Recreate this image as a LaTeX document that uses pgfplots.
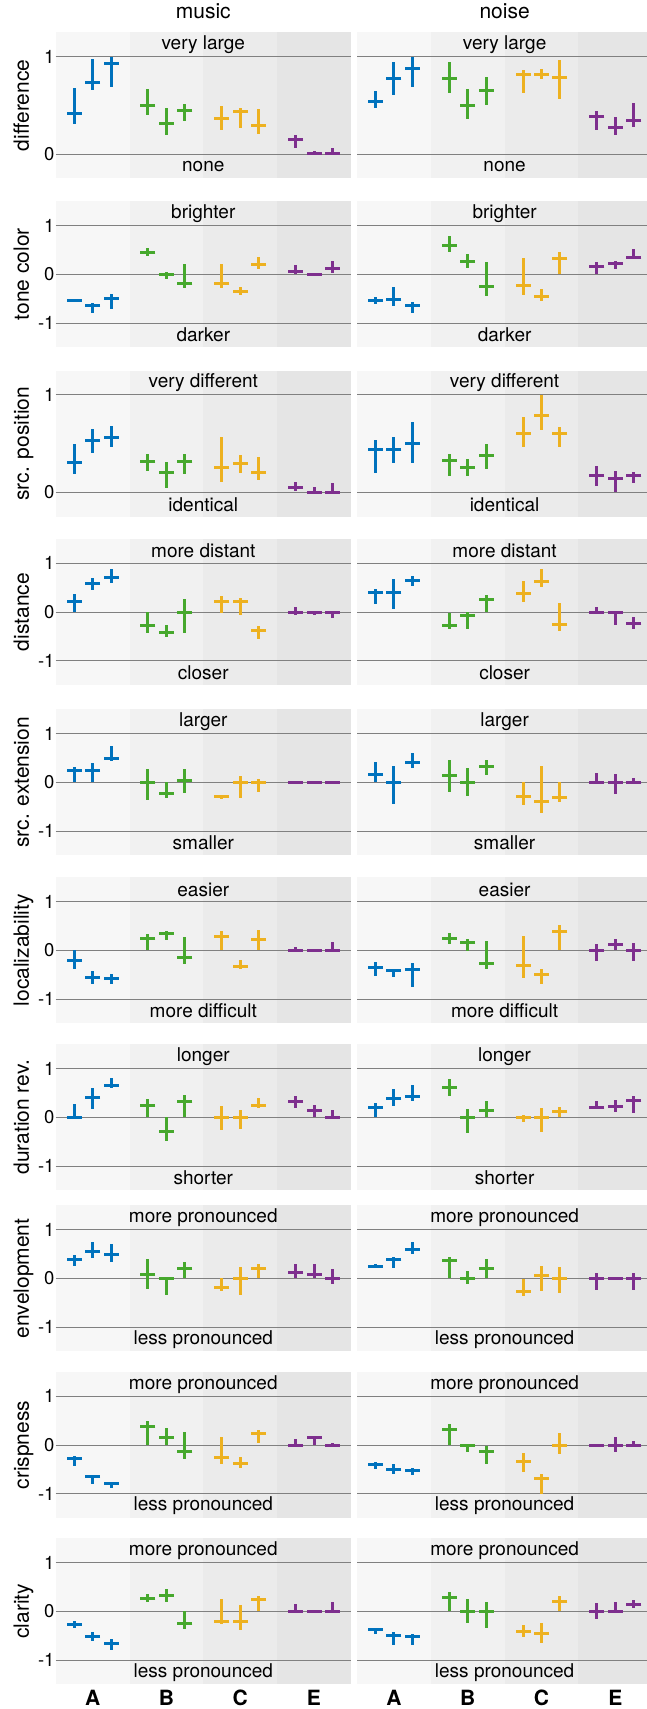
\documentclass[border=0pt]{standalone}
\usepackage{pgfplots}
\pgfplotsset{compat=1.18}
\usepackage{pgfplotstable}
\usepackage{fontspec}
\setmainfont{TeX Gyre Heros}
\definecolor{cA}{RGB}{0,114,189}
\definecolor{cB}{RGB}{70,168,45}
\definecolor{cC}{RGB}{237,177,32}
\definecolor{cE}{RGB}{126,47,142}
\definecolor{bA}{RGB}{247,247,247}
\definecolor{bB}{RGB}{241,241,241}
\definecolor{bC}{RGB}{235,235,235}
\definecolor{bE}{RGB}{229,229,229}
\definecolor{gridc}{RGB}{128,128,128}
\newcommand\fsTick{\fontsize{18.5}{21}\selectfont}
\newcommand\fsIn{\fontsize{19}{22}\selectfont}
\newcommand\fsLab{\fontsize{21}{24}\selectfont}
\newcommand\fsCat{\fontsize{21}{24}\selectfont\bfseries}
\pgfplotsset{
 panel/.style={scale only axis, width=295.2pt, height=146pt, xmin=0.5, xmax=4.5,
  anchor=north west, set layers, clip mode=individual,
  axis line style={draw=none}, major tick length=0pt, tick style={draw=none},
  xtick={1,2,3,4}, xticklabels={}, ymajorgrids, grid style={line width=0.9pt, draw=gridc},
  yticklabel style={font=\fsTick, inner xsep=1pt},
  ylabel style={font=\fsLab, at={(axis description cs:-0.0908,0.5)}, anchor=base},
  title style={font=\fsLab, at={(axis description cs:0.5,1)}, anchor=base, yshift=8pt}},
 rA/.style={ymin=-0.25, ymax=1.25, ytick={0,1}, yticklabels={0,1}},
 rB/.style={ymin=-1.5, ymax=1.5, ytick={-1,0,1}, yticklabels={-1,0,1}},
 noyl/.style={yticklabels={}},
 cats/.style={xticklabels={A,B,C,E}, xticklabel style={font=\fsCat, anchor=base, yshift=-21.5pt, inner sep=0pt}},
 ebar/.style={only marks, mark=-, mark size=7.5pt, mark options={line width=3pt, solid},
  error bars/.cd, y dir=both, y explicit, error mark=none, error bar style={line width=3pt, solid}},
}
\newcommand\bands[2]{%
 \addplot[on layer=axis background, fill=bA, draw=none] coordinates {(0.5,#1) (1.5,#1) (1.5,#2) (0.5,#2)} -- cycle;
 \addplot[on layer=axis background, fill=bB, draw=none] coordinates {(1.5,#1) (2.5,#1) (2.5,#2) (1.5,#2)} -- cycle;
 \addplot[on layer=axis background, fill=bC, draw=none] coordinates {(2.5,#1) (3.5,#1) (3.5,#2) (2.5,#2)} -- cycle;
 \addplot[on layer=axis background, fill=bE, draw=none] coordinates {(3.5,#1) (4.5,#1) (4.5,#2) (3.5,#2)} -- cycle;
}
\newcommand\grp[3]{%
 \addplot[color=#1, restrict x to domain=#2, ebar] table[x=x, y=y, y error plus expr=\thisrow{hi}-\thisrow{y}, y error minus expr=\thisrow{y}-\thisrow{lo}] {#3};}
\newcommand\groups[1]{%
 \grp{cA}{0.5:1.5}{#1}\grp{cB}{1.5:2.5}{#1}\grp{cC}{2.5:3.5}{#1}\grp{cE}{3.5:4.5}{#1}}
\newcommand\panel[8]{%
\begin{axis}[panel, at={(#1pt,-#2pt)}, #3]
\bands{#4}{#5}
\groups{#6}
\node[font=\fsIn] at (rel axis cs:0.5,0.9167) {#7};
\node[font=\fsIn] at (rel axis cs:0.5,0.0833) {#8};
\end{axis}}

% ---------- data: x mean lo hi ----------
\pgfplotstableread{
x y lo hi
0.75 0.411 0.308 0.675
1.00 0.736 0.658 0.973
1.25 0.932 0.692 1.0
1.75 0.503 0.401 0.668
2.00 0.308 0.195 0.476
2.25 0.442 0.342 0.510
2.75 0.366 0.247 0.493
3.00 0.432 0.271 0.469
3.25 0.295 0.209 0.462
3.75 0.144 0.065 0.195
4.00 0.0 0.0 0.03
4.25 0.0 0.0 0.058
}\tMa
\pgfplotstableread{
x y lo hi
0.75 0.534 0.476 0.647
1.00 0.771 0.610 0.945
1.25 0.880 0.692 1.0
1.75 0.771 0.630 0.945
2.00 0.5 0.363 0.668
2.25 0.647 0.507 0.788
2.75 0.812 0.630 0.860
3.00 0.812 0.774 0.870
3.25 0.788 0.568 0.962
3.75 0.380 0.25 0.442
4.00 0.267 0.199 0.380
4.25 0.342 0.281 0.524
}\tNa
\pgfplotstableread{
x y lo hi
0.75 -0.53 -0.54 -0.52
1.00 -0.65 -0.79 -0.58
1.25 -0.50 -0.72 -0.41
1.75 0.454 0.378 0.536
2.00 0.0 -0.103 0.048
2.25 -0.19 -0.275 0.22
2.75 -0.186 -0.275 0.22
3.00 -0.35 -0.433 -0.254
3.25 0.206 0.11 0.35
3.75 0.048 0.0 0.19
4.00 0 0 0
4.25 0.124 0.02 0.275
}\tMb
\pgfplotstableread{
x y lo hi
0.75 -0.53 -0.62 -0.46
1.00 -0.51 -0.645 -0.26
1.25 -0.64 -0.79 -0.57
1.75 0.584 0.46 0.777
2.00 0.26 0.13 0.42
2.25 -0.26 -0.447 0.254
2.75 -0.24 -0.426 0.344
3.00 -0.447 -0.55 -0.30
3.25 0.33 0.0 0.46
3.75 0.165 0.0 0.254
4.00 0.213 0.10 0.268
4.25 0.35 0.35 0.515
}\tNb
\pgfplotstableread{
x y lo hi
0.75 0.31 0.187 0.5
1.00 0.531 0.405 0.653
1.25 0.565 0.466 0.684
1.75 0.313 0.218 0.398
2.00 0.204 0.048 0.306
2.25 0.316 0.19 0.391
2.75 0.259 0.105 0.565
3.00 0.299 0.197 0.388
3.25 0.207 0.129 0.361
3.75 0.054 0.014 0.105
4.00 0 0 0.058
4.25 0 0 0.092
}\tMc
\pgfplotstableread{
x y lo hi
0.75 0.439 0.194 0.541
1.00 0.439 0.3 0.565
1.25 0.5 0.3 0.718
1.75 0.323 0.167 0.398
2.00 0.259 0.167 0.337
2.25 0.381 0.235 0.5
2.75 0.602 0.463 0.769
3.00 0.789 0.636 1.0
3.25 0.602 0.463 0.667
3.75 0.177 0.065 0.269
4.00 0.146 0.0 0.218
4.25 0.177 0.099 0.211
}\tNc
\pgfplotstableread{
x y lo hi
0.75 0.206 0 0.37
1.00 0.59 0.454 0.70
1.25 0.715 0.59 0.887
1.75 -0.268 -0.426 -0.01
2.00 -0.412 -0.509 -0.268
2.25 0 -0.426 0.275
2.75 0.22 -0.02 0.33
3.00 0.22 -0.069 0.296
3.25 -0.378 -0.557 -0.282
3.75 0 -0.069 0.11
4.00 0 -0.069 0
4.25 0 -0.13 0
}\tMd
\pgfplotstableread{
x y lo hi
0.75 0.405 0.165 0.481
1.00 0.4 0.062 0.673
1.25 0.653 0.529 0.749
1.75 -0.275 -0.35 -0.014
2.00 -0.069 -0.344 -0.007
2.25 0.247 0 0.35
2.75 0.385 0.213 0.64
3.00 0.619 0.509 0.887
3.25 -0.247 -0.4 0.179
3.75 0 0 0.11
4.00 0 -0.275 0
4.25 -0.227 -0.357 -0.11
}\tNd
\pgfplotstableread{
x y lo hi
0.75 0.234 0 0.31
1.00 0.248 0 0.407
1.25 0.483 0.428 0.745
1.75 0 -0.366 0.276
2.00 -0.228 -0.317 0
2.25 0.041 -0.214 0.276
2.75 -0.283 -0.338 -0.255
3.00 0 -0.317 0.131
3.25 0 -0.193 0.069
3.75 0 0 0
4.00 0 0 0
4.25 0 0 0
}\tMe
\pgfplotstableread{
x y lo hi
0.75 0.152 0 0.414
1.00 0 -0.441 0.338
1.25 0.414 0.303 0.607
1.75 0.131 -0.2 0.462
2.00 0 -0.276 0.297
2.25 0.317 0.152 0.462
2.75 -0.283 -0.462 0
3.00 -0.393 -0.628 0.338
3.25 -0.303 -0.4 0
3.75 0 0 0.193
4.00 0 -0.234 0.166
4.25 0 0 0.09
}\tNe
\pgfplotstableread{
x y lo hi
0.75 -0.219 -0.377 0
1.00 -0.555 -0.692 -0.418
1.25 -0.575 -0.699 -0.486
1.75 0.247 0 0.342
2.00 0.342 0.219 0.39
2.25 -0.144 -0.274 0.267
2.75 0.274 0 0.397
3.00 -0.329 -0.377 -0.192
3.25 0.212 0 0.418
3.75 0 0 0.062
4.00 0 0 0
4.25 0 0 0.164
}\tMf
\pgfplotstableread{
x y lo hi
0.75 -0.363 -0.52 -0.24
1.00 -0.425 -0.548 -0.377
1.25 -0.397 -0.753 -0.253
1.75 0.233 0.13 0.363
2.00 0.151 -0.007 0.24
2.25 -0.281 -0.377 0.185
2.75 -0.322 -0.568 0.301
3.00 -0.5 -0.692 -0.377
3.25 0.377 0 0.52
3.75 0 -0.219 0.13
4.00 0.116 0 0.226
4.25 0 -0.219 0.144
}\tNf
\pgfplotstableread{
x y lo hi
0.75 0 -0.04 0.274
1.00 0.397 0.178 0.596
1.25 0.658 0.596 0.801
1.75 0.233 0 0.377
2.00 -0.301 -0.493 0
2.25 0.322 0 0.459
2.75 0 -0.253 0.233
3.00 0 -0.247 0.151
3.25 0.247 0.185 0.39
3.75 0.322 0.199 0.438
4.00 0.137 0.014 0.247
4.25 0 0 0.151
}\tMg
\pgfplotstableread{
x y lo hi
0.75 0.192 0 0.288
1.00 0.377 0.233 0.575
1.25 0.432 0.342 0.664
1.75 0.603 0.445 0.781
2.00 0 -0.322 0.164
2.25 0.144 0 0.342
2.75 0 -0.089 0.055
3.00 0 -0.295 0.192
3.25 0.11 0 0.219
3.75 0.199 0.199 0.342
4.00 0.226 0.116 0.356
4.25 0.336 0.096 0.438
}\tNg
\pgfplotstableread{
x y lo hi
0.75 0.395 0.259 0.469
1.00 0.558 0.422 0.741
1.25 0.49 0.34 0.707
1.75 0.088 -0.211 0.395
2.00 0 -0.333 0
2.25 0.211 0 0.327
2.75 -0.197 -0.252 0
3.00 0 -0.333 0.224
3.25 0.211 0.007 0.286
3.75 0.122 0 0.286
4.00 0.088 0 0.286
4.25 0 -0.109 0.19
}\tMh
\pgfplotstableread{
x y lo hi
0.75 0.252 0.204 0.299
1.00 0.395 0.218 0.442
1.25 0.592 0.49 0.755
1.75 0.361 0 0.442
2.00 0 -0.122 0.143
2.25 0.211 0 0.395
2.75 -0.272 -0.367 -0.014
3.00 0.061 -0.252 0.245
3.25 0 -0.293 0.224
3.75 0 -0.231 0.116
4.00 0 0 0
4.25 0 -0.231 0.116
}\tNh
\pgfplotstableread{
x y lo hi
0.75 -0.28 -0.423 -0.218
1.00 -0.642 -0.792 -0.621
1.25 -0.799 -0.874 -0.751
1.75 0.389 0 0.491
2.00 0.164 0 0.348
2.25 -0.143 -0.28 0.259
2.75 -0.266 -0.389 0.164
3.00 -0.389 -0.464 -0.253
3.25 0.246 0.048 0.3
3.75 0 0 0.123
4.00 0.164 0 0.191
4.25 0 0 0.034
}\tMi
\pgfplotstableread{
x y lo hi
0.75 -0.41 -0.498 -0.355
1.00 -0.512 -0.587 -0.382
1.25 -0.519 -0.614 -0.464
1.75 0.321 0 0.423
2.00 0 -0.15 0.02
2.25 -0.13 -0.382 -0.014
2.75 -0.341 -0.546 -0.164
3.00 -0.696 -1.0 -0.587
3.25 0 -0.177 0.239
3.75 0 0 0
4.00 0 -0.137 0.164
4.25 0 0 0.075
}\tNi
\pgfplotstableread{
x y lo hi
0.75 -0.279 -0.347 -0.204
1.00 -0.524 -0.619 -0.415
1.25 -0.667 -0.803 -0.578
1.75 0.265 0.184 0.361
2.00 0.333 0.184 0.456
2.25 -0.259 -0.354 0
2.75 -0.204 -0.265 0.252
3.00 -0.204 -0.374 0.129
3.25 0.252 0 0.306
3.75 0 0 0.15
4.00 0 0 0
4.25 0 0 0.184
}\tMj
\pgfplotstableread{
x y lo hi
0.75 -0.381 -0.469 -0.333
1.00 -0.497 -0.701 -0.422
1.25 -0.517 -0.701 -0.463
1.75 0.286 0 0.395
2.00 0 -0.238 0.252
2.25 0 -0.333 0.19
2.75 -0.422 -0.537 -0.286
3.00 -0.449 -0.66 -0.245
3.25 0.211 0 0.313
3.75 0 -0.15 0.17
4.00 0 0 0.19
4.25 0.15 0.061 0.231
}\tNj

\begin{document}
\begin{tikzpicture}
\panel{55.7}{32.3}{rA, ylabel={difference}, title={music}}{-0.25}{1.25}{\tMa}{very large}{none}
\panel{357.0}{32.3}{rA, noyl, title={noise}}{-0.25}{1.25}{\tNa}{very large}{none}
\panel{55.7}{201.3}{rB, ylabel={tone color}}{-1.5}{1.5}{\tMb}{brighter}{darker}
\panel{357.0}{201.3}{rB, noyl}{-1.5}{1.5}{\tNb}{brighter}{darker}
\panel{55.7}{370.6}{rA, ylabel={src. position}}{-0.25}{1.25}{\tMc}{very different}{identical}
\panel{357.0}{370.6}{rA, noyl}{-0.25}{1.25}{\tNc}{very different}{identical}
\panel{55.7}{539.0}{rB, ylabel={distance}}{-1.5}{1.5}{\tMd}{more distant}{closer}
\panel{357.0}{539.0}{rB, noyl}{-1.5}{1.5}{\tNd}{more distant}{closer}
\panel{55.7}{709.3}{rB, ylabel={src. extension}}{-1.5}{1.5}{\tMe}{larger}{smaller}
\panel{357.0}{709.3}{rB, noyl}{-1.5}{1.5}{\tNe}{larger}{smaller}
\panel{55.7}{877.3}{rB, ylabel={localizability}}{-1.5}{1.5}{\tMf}{easier}{more difficult}
\panel{357.0}{877.3}{rB, noyl}{-1.5}{1.5}{\tNf}{easier}{more difficult}
\panel{55.7}{1044.3}{rB, ylabel={duration rev.}}{-1.5}{1.5}{\tMg}{longer}{shorter}
\panel{357.0}{1044.3}{rB, noyl}{-1.5}{1.5}{\tNg}{longer}{shorter}
\panel{55.7}{1205.3}{rB, ylabel={envelopment}}{-1.5}{1.5}{\tMh}{more pronounced}{less pronounced}
\panel{357.0}{1205.3}{rB, noyl}{-1.5}{1.5}{\tNh}{more pronounced}{less pronounced}
\panel{55.7}{1372.0}{rB, ylabel={crispness}}{-1.5}{1.5}{\tMi}{more pronounced}{less pronounced}
\panel{357.0}{1372.0}{rB, noyl}{-1.5}{1.5}{\tNi}{more pronounced}{less pronounced}
\panel{55.7}{1538.3}{rB, ylabel={clarity}, cats}{-1.5}{1.5}{\tMj}{more pronounced}{less pronounced}
\panel{357.0}{1538.3}{rB, noyl, cats}{-1.5}{1.5}{\tNj}{more pronounced}{less pronounced}
\pgfresetboundingbox
\path[use as bounding box] (0pt,0pt) rectangle (647pt,-1709pt);
\end{tikzpicture}
\end{document}
